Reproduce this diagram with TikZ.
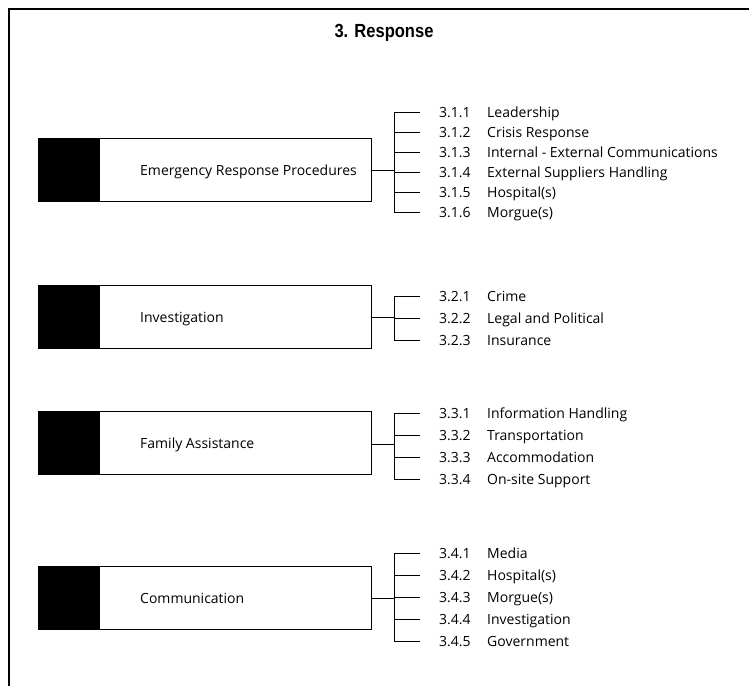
\documentclass[tikz,border=0pt]{standalone}
\usepackage{fontspec}
\setmainfont{Open Sans}
\newfontfamily\headfont[FakeStretch=0.87]{Liberation Sans}
\begin{document}
\begin{tikzpicture}[x=1pt,y=-1pt,
  frame/.style={line width=1.1pt},
  blockbox/.style={draw,line width=0.9pt,minimum width=333pt,minimum height=63pt,inner sep=0pt},
  blocklabel/.style={font=\fontsize{14}{16}\selectfont,anchor=west,inner sep=0pt,text height=10pt,text depth=0pt},
  itemnum/.style={font=\fontsize{14}{16}\selectfont,anchor=west,inner sep=0pt,text height=10pt,text depth=0pt},
  itemtext/.style={itemnum},
  twig/.style={line width=0.7pt}]

\useasboundingbox (0,0) rectangle (749,686);
\draw[frame] (9,686) -- (9,9) -- (749,9);
\node[font=\headfont\bfseries\fontsize{19}{22}\selectfont] (title) at (384,33) {3. Response};

% 3.1
\node[blockbox] (erp) at (204.5,170) {};
\fill (erp.north west) rectangle ([xshift=62pt]erp.south west);
\node[blocklabel] (erplabel) at (140,170) {Emergency Response Procedures};
\coordinate (erpb) at (394,170);
\draw[twig] (erp.east) -- (erpb);
\foreach \t [count=\i] in {Leadership,Crisis Response,Internal - External Communications,External Suppliers Handling,Hospital(s),Morgue(s)} {
  \node[itemnum] (erp\i) at (439,92+20*\i) {3.1.\i};
  \node[itemtext] (erpt\i) at (487,92+20*\i) {\t};
  \draw[twig] (erpb |- erp\i.west) -- ([xshift=-19pt]erp\i.west);
}
\draw[twig] (erpb |- erp1.west) -- (erpb |- erp6.west);

% 3.2
\node[blockbox] (inv) at (204.5,317) {};
\fill (inv.north west) rectangle ([xshift=62pt]inv.south west);
\node[blocklabel] (invlabel) at (140,317) {Investigation};
\coordinate (invb) at (394,317);
\draw[twig] (inv.east) -- (invb);
\foreach \t [count=\i] in {Crime,Legal and Political,Insurance} {
  \node[itemnum] (inv\i) at (439,274+22*\i) {3.2.\i};
  \node[itemtext] (invt\i) at (487,274+22*\i) {\t};
  \draw[twig] (invb |- inv\i.west) -- ([xshift=-19pt]inv\i.west);
}
\draw[twig] (invb |- inv1.west) -- (invb |- inv3.west);

% 3.3
\node[blockbox] (fam) at (204.5,443) {};
\fill (fam.north west) rectangle ([xshift=62pt]fam.south west);
\node[blocklabel] (famlabel) at (140,443) {Family Assistance};
\coordinate (famb) at (394,444);
\draw[twig] (fam.east |- famb) -- (famb);
\foreach \t [count=\i] in {Information Handling,Transportation,Accommodation,On-site Support} {
  \node[itemnum] (fam\i) at (439,391+22*\i) {3.3.\i};
  \node[itemtext] (famt\i) at (487,391+22*\i) {\t};
  \draw[twig] (famb |- fam\i.west) -- ([xshift=-19pt]fam\i.west);
}
\draw[twig] (famb |- fam1.west) -- (famb |- fam4.west);

% 3.4
\node[blockbox] (com) at (204.5,598) {};
\fill (com.north west) rectangle ([xshift=62pt]com.south west);
\node[blocklabel] (comlabel) at (140,598) {Communication};
\coordinate (comb) at (394,598);
\draw[twig] (com.east) -- (comb);
\foreach \t [count=\i] in {Media,Hospital(s),Morgue(s),Investigation,Government} {
  \node[itemnum] (com\i) at (439,531+22*\i) {3.4.\i};
  \node[itemtext] (comt\i) at (487,531+22*\i) {\t};
  \draw[twig] (comb |- com\i.west) -- ([xshift=-19pt]com\i.west);
}
\draw[twig] (comb |- com1.west) -- (comb |- com5.west);

\end{tikzpicture}
\end{document}
